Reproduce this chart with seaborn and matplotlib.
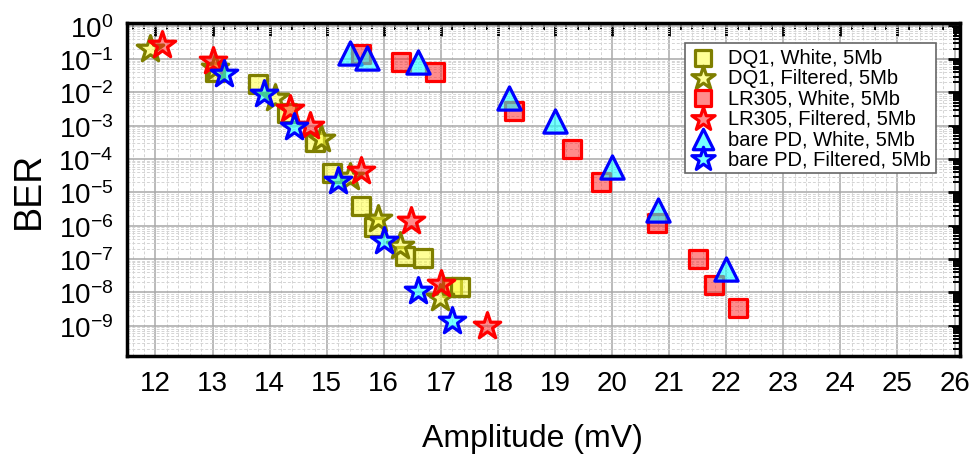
import numpy as np
import pandas as pd
import matplotlib
matplotlib.use("Agg")
import matplotlib.pyplot as plt
import matplotlib.ticker as mticker
import seaborn as sns

# DQ1 detector
dq1_white_x = [13.05, 13.8, 14.31, 14.8, 15.1, 15.6, 15.82, 16.37, 16.68, 17.2, 17.33]
dq1_white_y = [4e-2, 1.8e-2, 2.5e-3, 3.3e-4, 3.8e-5, 4e-6, 9e-7, 1.2e-7, 1.05e-7, 1.5e-8, 1.5e-8]
dq1_filt_x = [11.9, 13.05, 14.1, 14.9, 15.4, 15.9, 16.28, 16.98]
dq1_filt_y = [0.2, 5.5e-2, 7e-3, 4e-4, 3e-5, 1.6e-6, 2.5e-7, 7e-9]

# LR305 detector
lr_white_x = [15.6, 16.3, 16.9, 18.28, 19.3, 19.8, 20.78, 21.5, 21.78, 22.2]
lr_white_y = [0.14, 8e-2, 4e-2, 2.8e-3, 2e-4, 2e-5, 1.2e-6, 1e-7, 1.7e-8, 3.5e-9]
lr_filt_x = [12.12, 13.0, 14.35, 14.71, 15.6, 16.48, 17.0, 17.8]
lr_filt_y = [0.27, 9e-2, 3.2e-3, 1e-3, 4.5e-5, 1.35e-6, 1.8e-8, 1e-9]

# bare photodiode
pd_white_x = [15.4, 15.7, 16.6, 18.2, 19.0, 20.0, 20.8, 22.0]
pd_white_y = [0.15, 0.11, 8e-2, 7e-3, 1.4e-3, 6e-5, 3e-6, 5e-8]
pd_filt_x = [13.2, 13.9, 14.42, 15.2, 16.0, 16.6, 17.2]
pd_filt_y = [3.5e-2, 9e-3, 9e-4, 2.2e-5, 3.4e-7, 1.1e-8, 1.35e-9]

sns.set_style("white")
plt.rcParams['font.family'] = ['Liberation Sans', 'DejaVu Sans']
plt.rcParams['mathtext.default'] = 'regular'
plt.rcParams['text.color'] = 'black'
plt.rcParams['axes.labelcolor'] = 'black'
plt.rcParams['xtick.color'] = 'black'
plt.rcParams['ytick.color'] = 'black'

fig = plt.figure(figsize=(9.69, 4.56), dpi=100)
ax = fig.add_axes([0.131, 0.217, 0.860, 0.730])

yellow = (1, 1, 0.25, 0.55)
salmon = (1, 0.1, 0.1, 0.5)
cyan = (0.1, 1, 1, 0.6)
olive = '#7f7f00'

series = [
    (dq1_white_x, dq1_white_y, 'DQ1, White, 5Mb', 's', 160, yellow, olive),
    (dq1_filt_x, dq1_filt_y, 'DQ1, Filtered, 5Mb', '*', 400, yellow, olive),
    (lr_white_x, lr_white_y, 'LR305, White, 5Mb', 's', 160, salmon, 'red'),
    (lr_filt_x, lr_filt_y, 'LR305, Filtered, 5Mb', '*', 400, salmon, 'red'),
    (pd_white_x, pd_white_y, 'bare PD, White, 5Mb', '^', 280, cyan, 'blue'),
    (pd_filt_x, pd_filt_y, 'bare PD, Filtered, 5Mb', '*', 400, cyan, 'blue'),
]

for xs, ys, lab, mk, size, fc, ec in series:
    df = pd.DataFrame({'amp': xs, 'ber': ys})
    sns.scatterplot(data=df, x='amp', y='ber', ax=ax, marker=mk, s=size,
                    color=fc, edgecolor=ec, linewidth=2.3, label=lab, zorder=3)

ax.set_yscale('log')
ax.set_xlim(11.5, 26.1)
ax.set_ylim(10**-9.91, 10**0.08)
ax.xaxis.set_major_locator(mticker.MultipleLocator(1))
ax.xaxis.set_minor_locator(mticker.MultipleLocator(0.2))
ax.yaxis.set_major_locator(mticker.LogLocator(base=10, numticks=20))
ax.yaxis.set_minor_locator(mticker.LogLocator(base=10, subs=np.arange(2, 10), numticks=20))
ax.yaxis.set_minor_formatter(mticker.NullFormatter())

ax.grid(True, which='major', color='#a8a8a8', linewidth=1.1, zorder=0)
ax.grid(True, which='minor', color='#d4d4d4', linewidth=0.7, linestyle=(0, (3, 2)), zorder=0)
ax.set_axisbelow(True)

ax.tick_params(which='both', direction='in', top=True, right=True)
ax.tick_params(which='major', length=9, width=2, labelsize=20, pad=10)
ax.tick_params(which='minor', length=5, width=1.4)
for sp in ax.spines.values():
    sp.set_color('black')
    sp.set_linewidth(2.5)

ax.set_xlabel('Amplitude (mV)', fontsize=23)
ax.xaxis.set_label_coords(0.487, -0.2)
ax.set_ylabel('BER', fontsize=27, labelpad=8)

leg = ax.legend(loc='upper right', bbox_to_anchor=(0.983, 0.97), fontsize=14.5,
                frameon=True, fancybox=False, edgecolor='#666666',
                handletextpad=0.6, borderpad=0.25, labelspacing=0.06,
                handlelength=1.3, markerscale=0.88)
leg.get_frame().set_linewidth(1.2)
leg.get_frame().set_alpha(1)

fig.savefig('out.png', dpi=100)
